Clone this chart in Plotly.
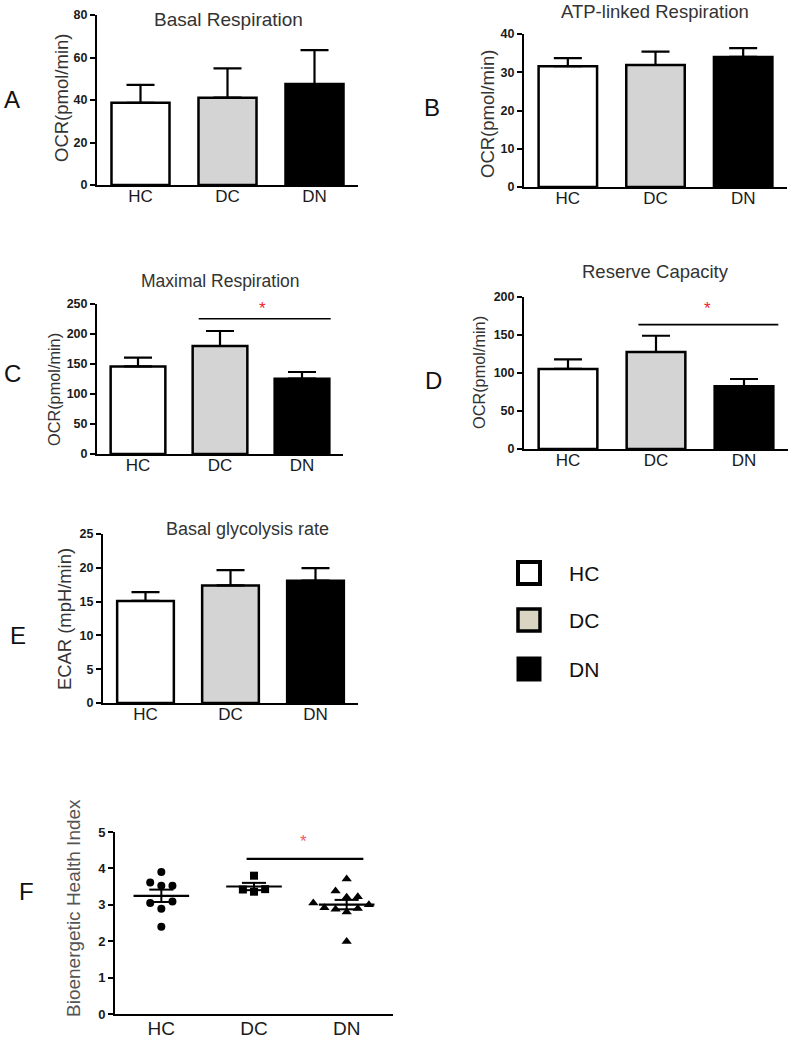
import numpy as np
import plotly.graph_objects as go

# ---------------- data ----------------
groups = ["HC", "DC", "DN"]

basal_mean = [38.7, 41.1, 47.5]
basal_sem = [8.4, 13.8, 16.0]

atp_mean = [31.6, 31.9, 34.0]
atp_sem = [2.1, 3.5, 2.3]

maximal_mean = [146.0, 180.0, 125.5]
maximal_sem = [14.5, 25.0, 11.2]

reserve_mean = [105.3, 127.6, 82.5]
reserve_sem = [12.7, 21.4, 9.6]

ecar_mean = [15.1, 17.4, 18.1]
ecar_sem = [1.3, 2.25, 1.85]

bhi_hc = [2.40, 2.89, 3.05, 3.09, 3.52, 3.61, 3.52, 3.90]
bhi_dc = [3.36, 3.42, 3.43, 3.80]
bhi_dn = [1.99, 3.71, 3.21, 3.38, 3.22, 2.80, 2.88, 2.90, 2.92, 3.00, 3.05]

# ---------------- helpers ----------------
W, H = 790, 1040


def px(x):
    return x / W


def py(y):
    return 1 - y / H


bar_fill = ["#ffffff", "#d4d4d4", "#000000"]
tickfont = dict(family="Arial, Liberation Sans", size=12.5, color="#1a1a1a", weight="bold")
catfont = dict(family="Arial, Liberation Sans", size=17, color="#1a1a1a")

fig = go.Figure()
layout = dict(
    template="none",
    width=W, height=H, margin=dict(l=0, r=0, t=0, b=0, autoexpand=False),
    paper_bgcolor="white", plot_bgcolor="white", showlegend=False,
)
annotations = []
shapes = []

# bar panels: (means, sems, x-left px, x-right px, y-bottom px, y-top px, ymax, dtick,
#              title, title pos, ytitle, ytitle pos, letter, letter pos, title size, ytitle size)
bar_panels = [
    (basal_mean, basal_sem, 97, 358, 185, 15, 80, 20, "Basal Respiration", (228, 19),
     "OCR(pmol/min)", (61, 98), "A", (12, 100), 19, 18.5),
    (atp_mean, atp_sem, 524, 787, 187, 34, 40, 10, "ATP-linked Respiration", (655, 12),
     "OCR(pmol/min)", (487, 114), "B", (432, 108), 18.5, 18.5),
    (maximal_mean, maximal_sem, 97, 343, 454, 304, 250, 50, "Maximal Respiration", (220, 281),
     "OCR(pmol/min)", (54, 390), "C", (12, 373), 17.5, 16.3),
    (reserve_mean, reserve_sem, 524, 788, 449, 297, 200, 50, "Reserve Capacity", (655, 272),
     "OCR(pmol/min)", (479, 373), "D", (433, 380), 18.5, 16.3),
    (ecar_mean, ecar_sem, 103, 358, 703, 534, 25, 5, "Basal glycolysis rate", (247, 529),
     "ECAR (mpH/min)", (64, 619), "E", (18, 635), 18, 18.4),
]

for i, (m, s, xl, xr, yb, yt, ymax, dt, title, tpos, ytitle, ypos, letter, lpos, tsz, ysz) in enumerate(bar_panels):
    n = i + 1
    xa = "x" if n == 1 else f"x{n}"
    ya = "y" if n == 1 else f"y{n}"
    fig.add_trace(go.Bar(
        x=groups, y=m, width=0.667, xaxis=xa, yaxis=ya,
        marker=dict(color=bar_fill, line=dict(color="black", width=2.5)),
        error_y=dict(type="data", array=s, arrayminus=[0] * len(s), symmetric=False,
                     color="black", thickness=2.2, width=14),
    ))
    layout["xaxis" if n == 1 else f"xaxis{n}"] = dict(
        domain=[px(xl), px(xr)], anchor=ya, range=[-0.5, 2.5], type="category",
        showline=True, linecolor="black", linewidth=2, ticks="", ticklen=0,
        ticklabelstandoff=-5, tickfont=catfont, automargin=False,
        showgrid=False, zeroline=False, fixedrange=True,
    )
    layout["yaxis" if n == 1 else f"yaxis{n}"] = dict(
        domain=[py(yb), py(yt)], anchor=xa, range=[0, ymax], dtick=dt, tick0=0,
        showline=True, linecolor="black", linewidth=2, ticks="outside", ticklen=5,
        tickwidth=2, tickcolor="black", tickfont=tickfont, showgrid=False, automargin=False,
        zeroline=False, fixedrange=True,
    )
    annotations.append(dict(text=title, x=px(tpos[0]), y=py(tpos[1]), xref="paper", yref="paper",
                            showarrow=False, xanchor="center", yanchor="middle",
                            font=dict(family="Arial, Liberation Sans", size=tsz, color="#333333")))
    annotations.append(dict(text=ytitle, x=px(ypos[0]), y=py(ypos[1]), xref="paper", yref="paper",
                            showarrow=False, xanchor="center", yanchor="middle", textangle=-90,
                            font=dict(family="Arial, Liberation Sans", size=ysz, color="#333333")))
    annotations.append(dict(text=letter, x=px(lpos[0]), y=py(lpos[1]), xref="paper", yref="paper",
                            showarrow=False, xanchor="center", yanchor="middle",
                            font=dict(family="Liberation Sans, Arial", size=24, color="#111111")))

# ---------------- panel F (scatter dot plot) ----------------
def swarm(values, thresh=0.22, step=0.12):
    placed, offs = [], []
    order = [0]
    for k in range(1, 8):
        order += [-k, k]
    for v in values:
        for c in order:
            if all(pc != c or abs(v - pv) >= thresh for pv, pc in placed):
                placed.append((v, c))
                offs.append(c * step)
                break
    return offs


symbols = ["circle", "square", "triangle-up"]
sizes = [8, 8, 9]
for gi, vals in enumerate([bhi_hc, bhi_dc, bhi_dn]):
    offs = swarm(vals)
    fig.add_trace(go.Scatter(
        x=[gi + o for o in offs], y=vals, mode="markers", xaxis="x6", yaxis="y6",
        marker=dict(symbol=symbols[gi], size=sizes[gi], color="black", line=dict(width=0)),
    ))
    arr = np.array(vals)
    mean = arr.mean()
    sem = arr.std(ddof=1) / np.sqrt(len(arr))
    fig.add_trace(go.Scatter(x=[gi - 0.3, gi + 0.3], y=[mean, mean], mode="lines",
                             xaxis="x6", yaxis="y6", line=dict(color="black", width=2.2)))
    for val in (mean - sem, mean + sem):
        fig.add_trace(go.Scatter(x=[gi - 0.13, gi + 0.13], y=[val, val], mode="lines",
                                 xaxis="x6", yaxis="y6", line=dict(color="black", width=2)))
    fig.add_trace(go.Scatter(x=[gi, gi], y=[mean - sem, mean + sem], mode="lines",
                             xaxis="x6", yaxis="y6", line=dict(color="black", width=2)))

layout["xaxis6"] = dict(
    domain=[px(115), px(393)], anchor="y6", range=[-0.5, 2.5], tickvals=[0, 1, 2],
    ticktext=groups, showline=True, linecolor="black", linewidth=2, ticks="", ticklen=0,
    ticklabelstandoff=-4, tickfont=dict(catfont, size=19), showgrid=False, zeroline=False,
    automargin=False, fixedrange=True,
)
layout["yaxis6"] = dict(
    domain=[py(1014), py(832)], anchor="x6", range=[0, 5], dtick=1, tick0=0,
    showline=True, linecolor="black", linewidth=2, ticks="outside", ticklen=5,
    tickwidth=2, tickcolor="black", tickfont=dict(tickfont, size=13), showgrid=False,
    automargin=False, zeroline=False, fixedrange=True,
)
annotations.append(dict(text="Bioenergetic Health Index", x=px(73), y=py(908), xref="paper",
                        yref="paper", showarrow=False, textangle=-90, xanchor="center",
                        yanchor="middle",
                        font=dict(family="Arial, Liberation Sans", size=19, color="#555555")))
annotations.append(dict(text="F", x=px(17), y=py(907), xref="paper", yref="paper",
                        showarrow=False, font=dict(family="Liberation Sans, Arial", size=24,
                                                   color="#111111")))

# ---------------- significance markers ----------------
sig = [  # (axis suffix, x0, x1, line y, star x, star y, colour, line width)
    ("3", 0.74, 2.35, 225.5, 1.52, 249, "#e8262c", 1.6),
    ("4", 0.80, 2.39, 163.6, 1.59, 190, "#e8262c", 1.6),
    ("6", 0.92, 2.18, 4.26, 1.53, 4.84, "#f05a64", 2.2),
]
for ax, x0, x1, ly, sx, sy, col, lw in sig:
    shapes.append(dict(type="line", xref=f"x{ax}", yref=f"y{ax}", x0=x0, x1=x1, y0=ly, y1=ly,
                       line=dict(color="black", width=lw)))
    annotations.append(dict(text="*", x=sx, y=sy, xref=f"x{ax}", yref=f"y{ax}", showarrow=False,
                            yanchor="middle", yshift=-4,
                            font=dict(family="Arial, Liberation Sans", size=17, color=col)))

# ---------------- legend ----------------
leg_items = [("HC", "#ffffff", 4, 573), ("DC", "#d9d4c1", 3.5, 620), ("DN", "#000000", 0, 669)]
for name, fill, lw, cy in leg_items:
    half = 11 if lw else 12.5
    shapes.append(dict(type="rect", xref="paper", yref="paper",
                       x0=px(529 - half), x1=px(529 + half), y0=py(cy + half), y1=py(cy - half),
                       fillcolor=fill, line=dict(color="black", width=lw if lw else 0)))
    annotations.append(dict(text=name, x=px(567), y=py(cy), xref="paper", yref="paper",
                            showarrow=False, xanchor="left", yanchor="middle",
                            font=dict(family="Arial, Liberation Sans", size=21, color="#111111")))

layout["annotations"] = annotations
layout["shapes"] = shapes
fig.update_layout(**layout)
fig.write_html("out.html", config={"displayModeBar": False},
               post_script="document.body.style.margin='0';")
